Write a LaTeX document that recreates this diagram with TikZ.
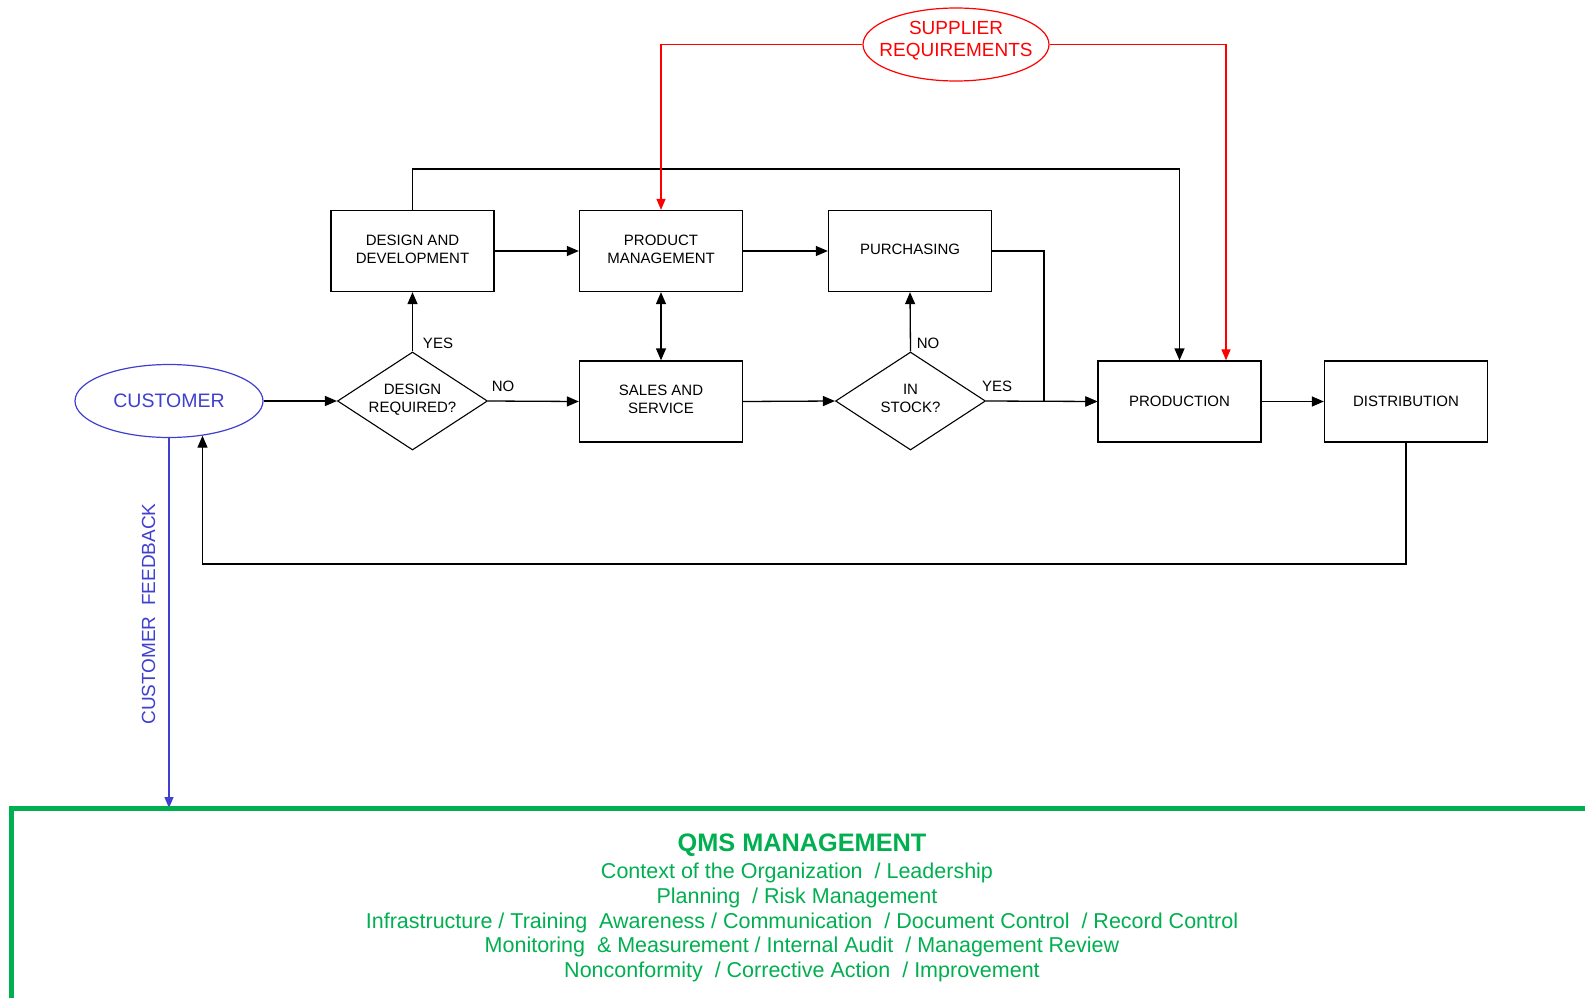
\documentclass[tikz,border=0pt]{standalone}
\usepackage{fontspec}
\setmainfont{Liberation Sans}
\usetikzlibrary{shapes.geometric,arrows.meta}
\definecolor{cblue}{RGB}{64,64,208}
\definecolor{sred}{RGB}{255,0,0}
\definecolor{qgreen}{RGB}{0,176,80}
\begin{document}
\begin{tikzpicture}[x=1pt,y=-1pt,
  every node/.style={inner sep=0pt},
  boxfont/.style={font=\fontsize{15}{18.2}\selectfont},
  stepbox/.style={draw,line width=1.3pt,minimum width=163pt,minimum height=81pt,align=center,boxfont,text depth=4pt},
  decision/.style={draw,diamond,line width=1.1pt,shape aspect=1.5,minimum width=150pt,minimum height=98pt,align=center,boxfont,text depth=5pt},
  lbl/.style={boxfont},
  tip/.style={-{Triangle[length=12pt,width=10pt]}},
  flow/.style={line width=1.3pt,tip},
  bothflow/.style={line width=1.3pt,{Triangle[length=12pt,width=10pt]}-{Triangle[length=12pt,width=10pt]}},
  redflow/.style={sred,line width=1.2pt,-{Triangle[length=11pt,width=9pt]}},
  blueflow/.style={cblue,line width=1.2pt,-{Triangle[length=11pt,width=9pt]}},
  oval/.style={draw,ellipse,line width=1.2pt,minimum width=188pt,minimum height=73pt,align=center},
  qmsline/.style={text=qgreen,font=\fontsize{21.5}{24}\selectfont},
  qmstitle/.style={text=qgreen,font=\fontsize{25.3}{28}\selectfont\bfseries}
]
\useasboundingbox (0,0) rectangle (1585,998);
\fill[white] (0,0) rectangle (1585,998);

% nodes
\node[oval,cblue,text=cblue,font=\fontsize{19.5}{22}\selectfont] (cust) at (169,401) {CUSTOMER};
\node[oval,sred,minimum width=186pt] (supp) at (956,44.5) {};
\node[text=sred,align=center,font=\fontsize{19}{22.5}\selectfont] (supptext) at (956,40.5) {SUPPLIER\\REQUIREMENTS};

\node[stepbox] (dd) at (412.5,251) {DESIGN AND\\DEVELOPMENT};
\node[stepbox] (pm) at (661,251) {PRODUCT\\MANAGEMENT};
\node[stepbox] (pur) at (910,251) {PURCHASING};
\node[stepbox] (ss) at (661,401.5) {SALES AND\\SERVICE};
\node[stepbox,text depth=0pt] (prod) at (1179.5,401.5) {PRODUCTION};
\node[stepbox,text depth=0pt] (dist) at (1406,401.5) {DISTRIBUTION};

\node[decision] (dr) at (412.5,401) {DESIGN\\REQUIRED?};
\node[decision] (ins) at (910.5,401) {IN\\STOCK?};

% labels
\node[lbl] (lyes1) at (438,343) {YES};
\node[lbl] (lno1) at (503,386) {NO};
\node[lbl] (lno2) at (928,343) {NO};
\node[lbl] (lyes2) at (997,386) {YES};

% routing coordinates
\coordinate (topr) at (0,169);
\coordinate (purx) at (1044,0);
\coordinate (fby) at (0,564);
\coordinate (qtop) at (169,808);

% connectors
\draw[flow] (cust.east) -- (dr.west);
\draw[flow] (dr.north) -- (dd.south);
\draw[flow] (dr.east) -- (ss.west);
\draw[flow] (dd.east) -- (pm.west);
\draw[bothflow] (pm.south) -- (ss.north);
\draw[flow] (pm.east) -- (pur.west);
\draw[flow] (ss.east) -- (ins.west);
\draw[flow] (ins.north) -- (pur.south);
\draw[flow] (ins.east) -- (prod.west);
\draw[flow] (pur.east) -| (purx |- prod.west) -- (prod.west);
\draw[flow] (dd.north) -- (dd.north |- topr) -| (prod.north);
\draw[flow] (prod.east) -- (dist.west);
\draw[flow] (dist.south) -- (dist.south |- fby) -| (cust.-46);
\draw[redflow] (supp.west) -| (pm.north);
\draw[redflow] (supp.east) -| ([xshift=46.5pt]prod.north);
\draw[blueflow] (cust.south) -- (qtop);
\node[cblue,rotate=90,font=\fontsize{19}{22}\selectfont] (fbtext) at (148.5,614) {CUSTOMER\ \ FEEDBACK};

% QMS frame
\draw[qgreen,line width=5pt] (1600,808.5) -- (11,808.5) -- (11,1010);
\node[qmstitle] (q0) at (802,845) {QMS MANAGEMENT};
\node[qmsline] (q1) at (797,872.5) {Context of the Organization \ / Leadership};
\node[qmsline] (q2) at (797,898) {Planning \ / Risk Management};
\node[qmsline] (q3) at (802,922.5) {Infrastructure / Training \ Awareness / Communication \ / Document Control \ / Record Control};
\node[qmsline] (q4) at (802,946.5) {Monitoring \ \& Measurement / Internal Audit \ / Management Review};
\node[qmsline] (q5) at (802,971.5) {Nonconformity \ / Corrective Action \ / Improvement};
\end{tikzpicture}
\end{document}
